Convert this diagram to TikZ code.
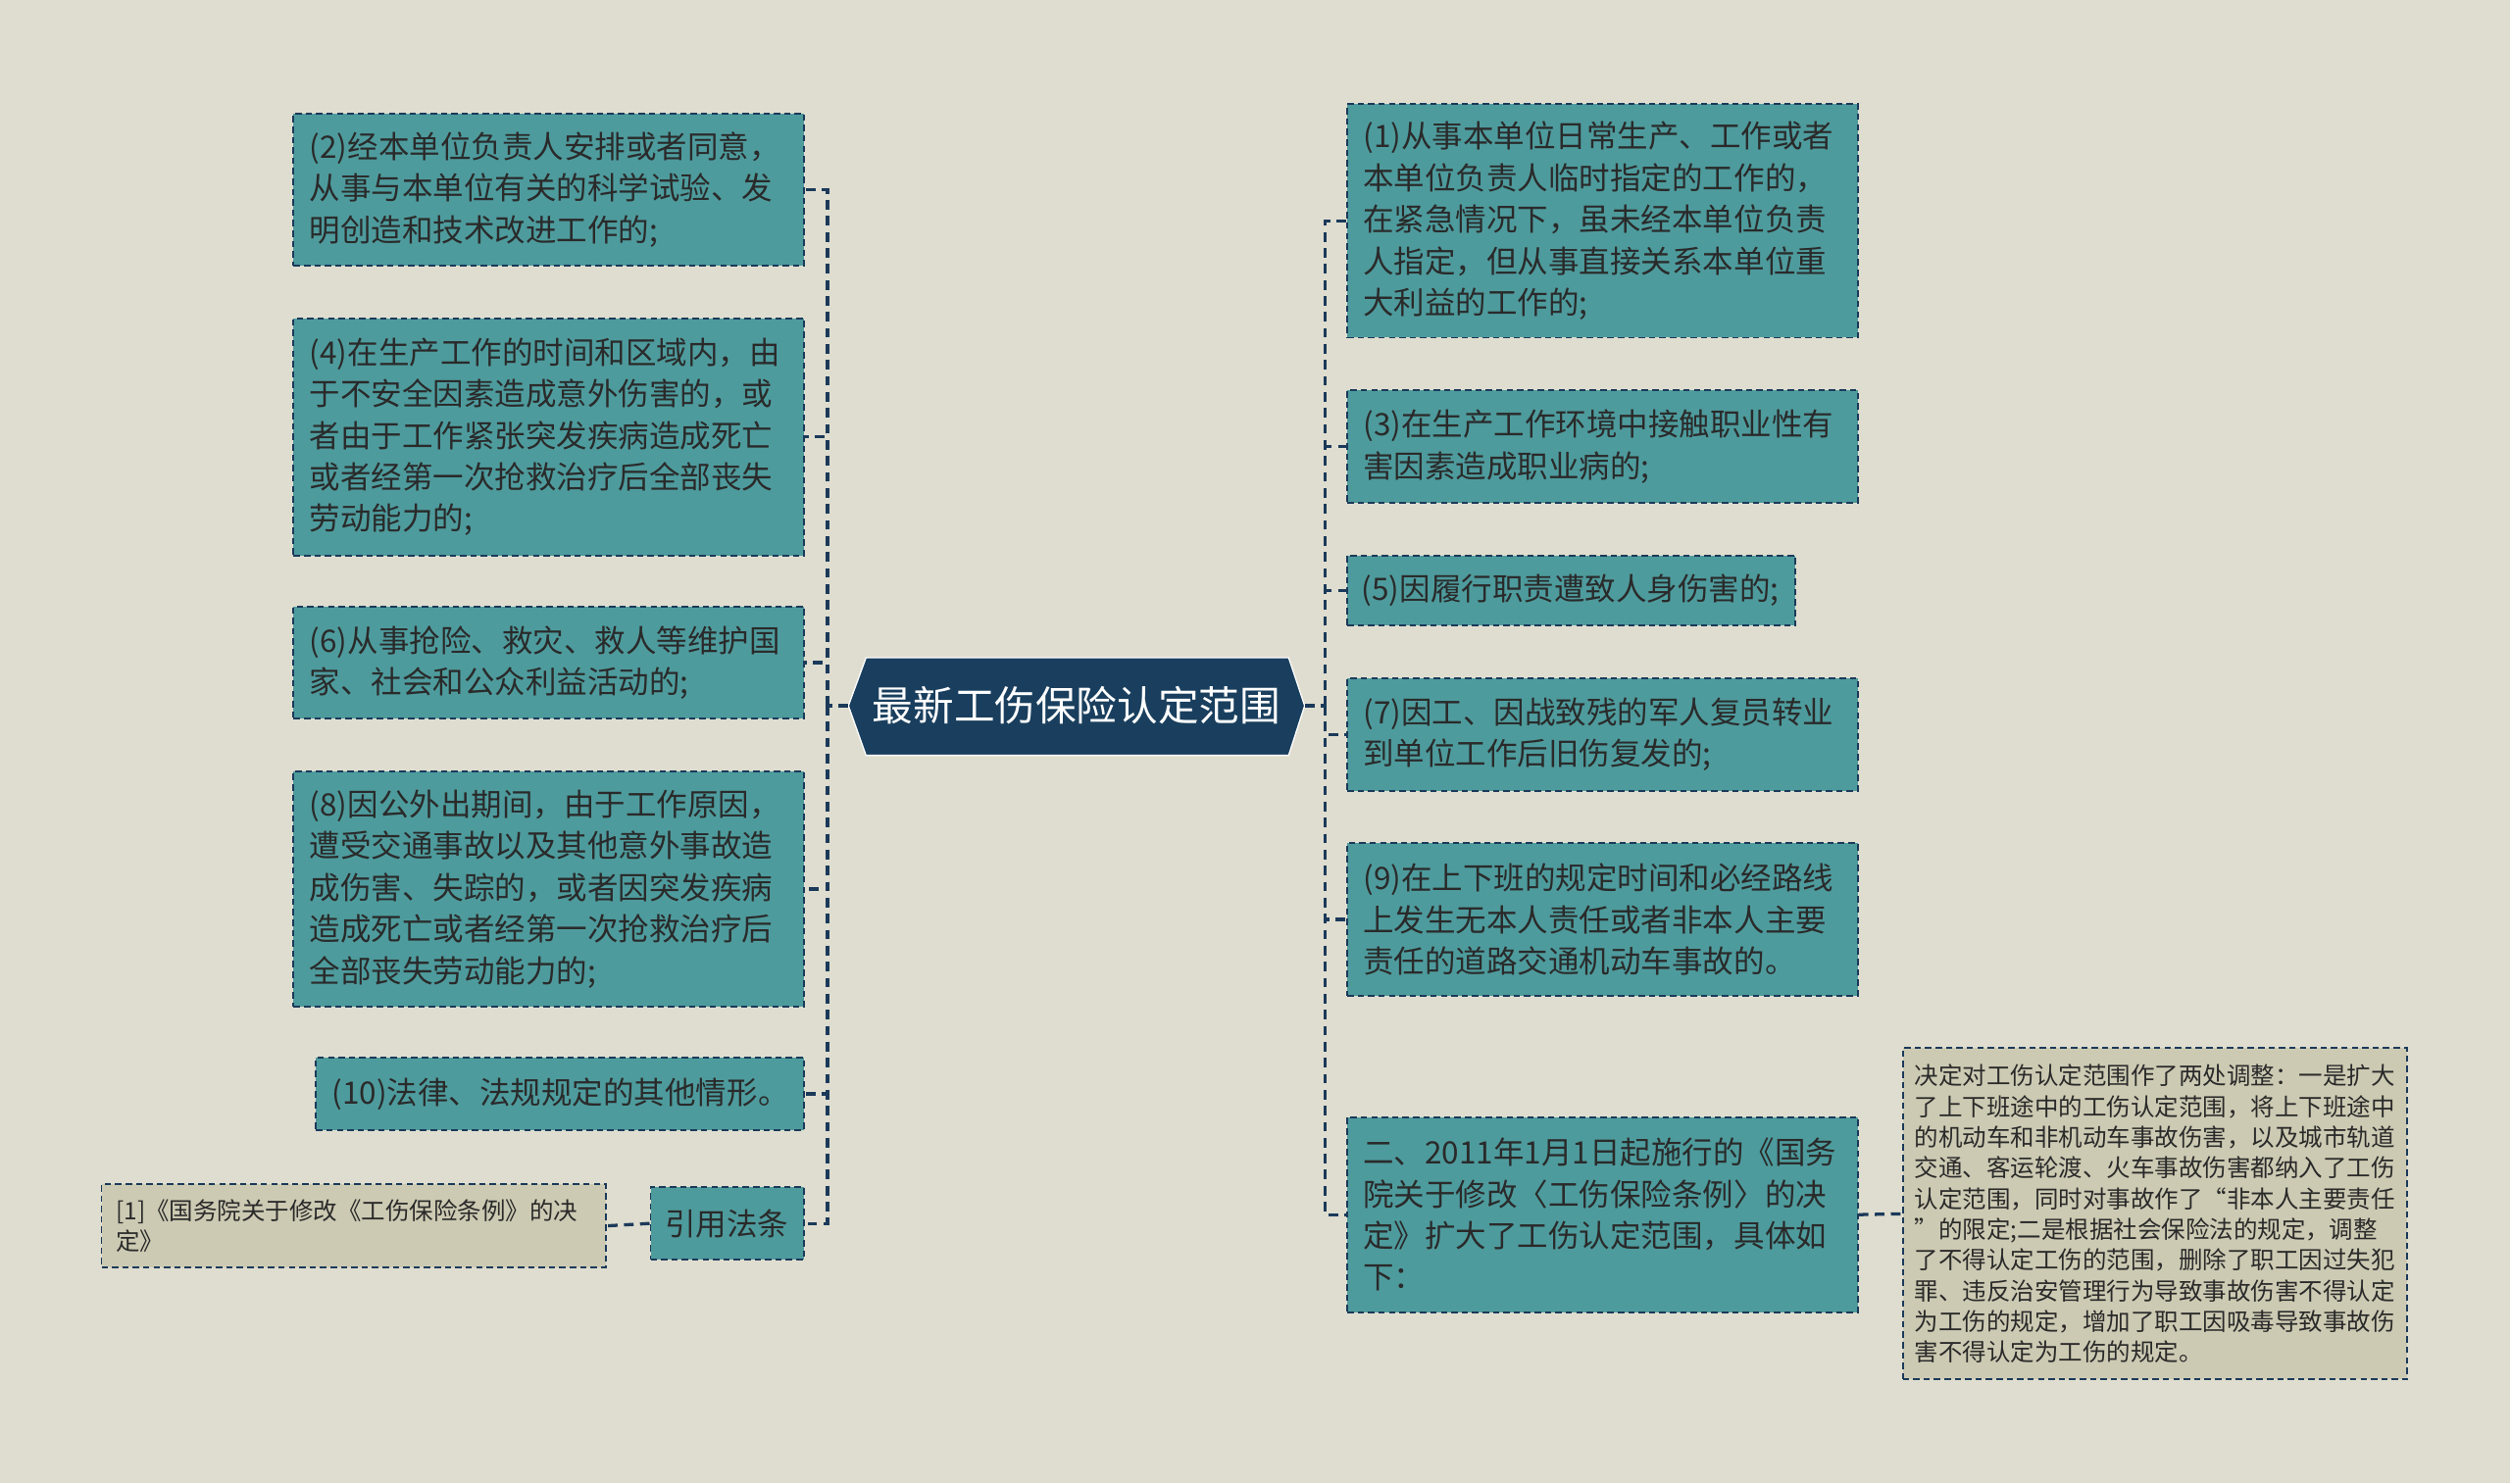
\documentclass[tikz,border=0pt]{standalone}
\usepackage{fontspec}
\usepackage{xcolor}
\usepackage{tikz}
\newfontfamily\cjk{Noto Sans CJK SC}
\definecolor{paper}{HTML}{DFDDCF}
\definecolor{tealbox}{HTML}{4E9B9D}
\definecolor{edge}{HTML}{1B3A5A}
\definecolor{hub}{HTML}{1A3F5E}
\definecolor{sand}{HTML}{CDCAB3}
\definecolor{ink}{HTML}{2A2A2A}

\begin{document}
\begin{tikzpicture}[x=1pt, y=-1pt,
    leaf/.style={draw=edge, dash pattern=on 4pt off 2.5pt, line width=1.2pt, fill=tealbox,
        text=ink, font=\cjk\fontsize{19.3}{26}\selectfont, align=left,
        inner xsep=10pt, inner ysep=0pt, text width=299pt},
    note/.style={leaf, fill=sand, font=\cjk\fontsize{15}{19.2}\selectfont},
    link/.style={draw=edge, line width=2pt, dash pattern=on 6pt off 4pt}]

    % Background
    \fill[paper] (0,0) rectangle (1568,927);
    \useasboundingbox (0,0) rectangle (1568,927);

    % Centre topic
    \fill[hub, draw=white, line width=0.8pt] (530,441) -- (541,411) -- (805,411) -- (815,441) -- (805,472) -- (541,472) -- cycle;
    \node[font=\cjk\fontsize{25.5}{30}\selectfont, text=white, minimum width=285pt, inner sep=0pt] (root) at (672.5,441) {最新工伤保险认定范围};

    % Left branch
    \node[leaf, anchor=east, minimum height=95pt] (l2) at (503,118.5)
        {(2)经本单位负责人安排或者同意，\\从事与本单位有关的科学试验、发\\明创造和技术改进工作的;};
    \node[leaf, anchor=east, minimum height=148pt] (l4) at (503,273)
        {(4)在生产工作的时间和区域内，由\\于不安全因素造成意外伤害的，或\\者由于工作紧张突发疾病造成死亡\\或者经第一次抢救治疗后全部丧失\\劳动能力的;};
    \node[leaf, anchor=east, minimum height=70pt] (l6) at (503,414)
        {(6)从事抢险、救灾、救人等维护国\\家、社会和公众利益活动的;};
    \node[leaf, anchor=east, minimum height=147pt] (l8) at (503,555.5)
        {(8)因公外出期间，由于工作原因，\\遭受交通事故以及其他意外事故造\\成伤害、失踪的，或者因突发疾病\\造成死亡或者经第一次抢救治疗后\\全部丧失劳动能力的;};
    \node[leaf, anchor=east, minimum height=45pt, text width=285pt] (l10) at (503,683.5)
        {(10)法律、法规规定的其他情形。};
    \node[leaf, anchor=east, minimum height=45pt, text width=78pt, inner xsep=9pt] (cite) at (503,764.5)
        {引用法条};
    \node[note, anchor=east, minimum height=52pt, text width=297pt, inner xsep=9pt] (ref1) at (379,766)
        {[1]《国务院关于修改《工伤保险条例》的决\\定》};

    % Right branch
    \node[leaf, anchor=west, minimum height=146pt] (r1) at (841,138)
        {(1)从事本单位日常生产、工作或者\\本单位负责人临时指定的工作的，\\在紧急情况下，虽未经本单位负责\\人指定，但从事直接关系本单位重\\大利益的工作的;};
    \node[leaf, anchor=west, minimum height=70pt] (r3) at (841,279)
        {(3)在生产工作环境中接触职业性有\\害因素造成职业病的;};
    \node[leaf, anchor=west, minimum height=44pt, text width=262pt, inner xsep=9pt] (r5) at (841,369)
        {(5)因履行职责遭致人身伤害的;};
    \node[leaf, anchor=west, minimum height=70pt] (r7) at (841,459)
        {(7)因工、因战致残的军人复员转业\\到单位工作后旧伤复发的;};
    \node[leaf, anchor=west, minimum height=95pt] (r9) at (841,574.5)
        {(9)在上下班的规定时间和必经路线\\上发生无本人责任或者非本人主要\\责任的道路交通机动车事故的。};
    \node[leaf, anchor=west, minimum height=122pt] (r11) at (841,759)
        {二、2011年1月1日起施行的《国务\\院关于修改〈工伤保险条例〉的决\\定》扩大了工伤认定范围，具体如\\下：};
    \node[note, anchor=west, minimum height=207pt, text width=300pt, inner xsep=7.5pt] (detail) at (1188,758.5)
        {决定对工伤认定范围作了两处调整：一是扩大\\了上下班途中的工伤认定范围，将上下班途中\\的机动车和非机动车事故伤害，以及城市轨道\\交通、客运轮渡、火车事故伤害都纳入了工伤\\认定范围，同时对事故作了“非本人主要责任\\”的限定;二是根据社会保险法的规定，调整\\了不得认定工伤的范围，删除了职工因过失犯\\罪、违反治安管理行为导致事故伤害不得认定\\为工伤的规定，增加了职工因吸毒导致事故伤\\害不得认定为工伤的规定。};

    % Connectors
    \coordinate (ltrunk) at (517,441);
    \coordinate (rtrunk) at (828,441);
    \draw[link] (root.west) -- (ltrunk);
    \draw[link] (root.east) -- (rtrunk);
    \foreach \n in {l2,l4,l6,l8,l10,cite} {
        \draw[link] (ltrunk) |- (\n.east);
    }
    \foreach \n in {r1,r3,r5,r7,r9,r11} {
        \draw[link] (rtrunk) |- (\n.west);
    }
    \draw[link] (cite.west) -- (ref1.east);
    \draw[link] (r11.east) -- (detail.west);

\end{tikzpicture}
\end{document}
